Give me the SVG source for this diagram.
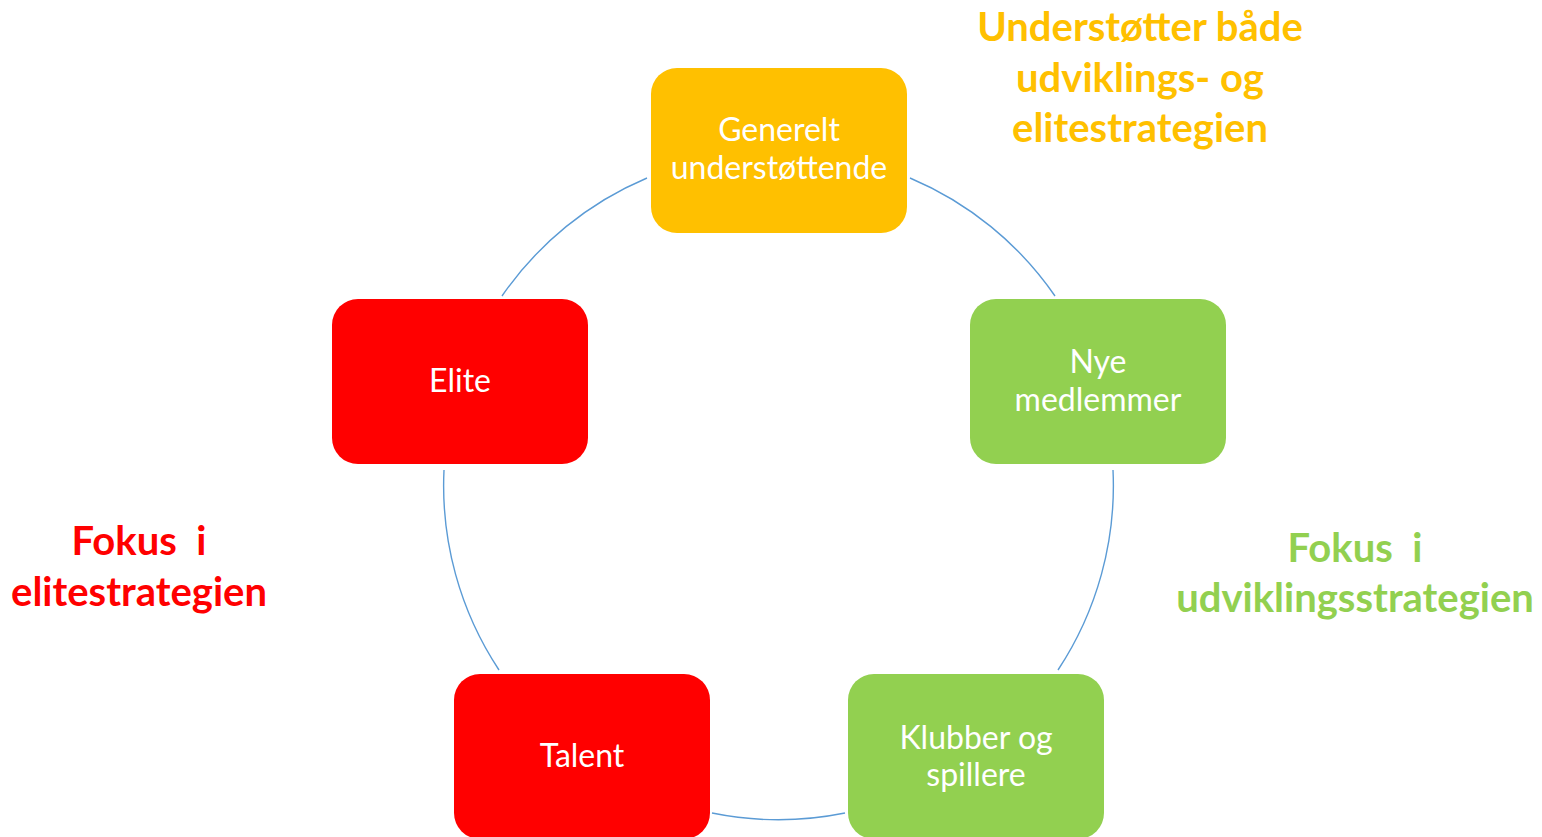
<svg xmlns="http://www.w3.org/2000/svg" width="1542" height="837" viewBox="0 0 1542 837">
<style>
.box{stroke:none}
.y{fill:#FFC000}.g{fill:#92D050}.r{fill:#FF0000}
.t{font-family:Lato,"Open Sans",sans-serif;font-size:32px;fill:#FFFFFF;text-anchor:middle}
.lbl{font-family:Lato,"Open Sans",sans-serif;font-weight:bold;font-size:40px;text-anchor:middle}
.arc{fill:none;stroke:#5B9BD5;stroke-width:1.4}
</style>
<rect width="1542" height="837" fill="#FFFFFF"/>
<g id="connectors">
<path class="arc" d="M647,178 A334,334 0 0 0 502,296"/>
<path class="arc" d="M910,178 A334,334 0 0 1 1055,296"/>
<path class="arc" d="M1113,470 A334,334 0 0 1 1058,670"/>
<path class="arc" d="M444,470 A334,334 0 0 0 499,670"/>
<path class="arc" d="M712,813 A334,334 0 0 0 845,813"/>
</g>
<g id="node-generelt">
<rect class="box y" x="651" y="68" width="256" height="165" rx="26"/>
<text class="t" x="779" y="141">Generelt</text>
<text class="t" x="779" y="179">understøttende</text>
</g>
<g id="node-nye">
<rect class="box g" x="970" y="299" width="256" height="165" rx="26"/>
<text class="t" x="1098" y="373">Nye</text>
<text class="t" x="1098" y="411">medlemmer</text>
</g>
<g id="node-klubber">
<rect class="box g" x="848" y="674" width="256" height="165" rx="26"/>
<text class="t" x="976" y="749">Klubber og</text>
<text class="t" x="976" y="786">spillere</text>
</g>
<g id="node-talent">
<rect class="box r" x="454" y="674" width="256" height="165" rx="26"/>
<text class="t" x="582" y="767">Talent</text>
</g>
<g id="node-elite">
<rect class="box r" x="332" y="299" width="256" height="165" rx="26"/>
<text class="t" x="460" y="392">Elite</text>
</g>
<g id="label-yellow">
<text class="lbl y" x="1140" y="41">Understøtter både</text>
<text class="lbl y" x="1140" y="92">udviklings- og</text>
<text class="lbl y" x="1140" y="142">elitestrategien</text>
</g>
<g id="label-red">
<text class="lbl r" x="139" y="555" xml:space="preserve">Fokus  i</text>
<text class="lbl r" x="139" y="606">elitestrategien</text>
</g>
<g id="label-green">
<text class="lbl g" x="1355" y="562" xml:space="preserve">Fokus  i</text>
<text class="lbl g" x="1355" y="612">udviklingsstrategien</text>
</g>
</svg>
